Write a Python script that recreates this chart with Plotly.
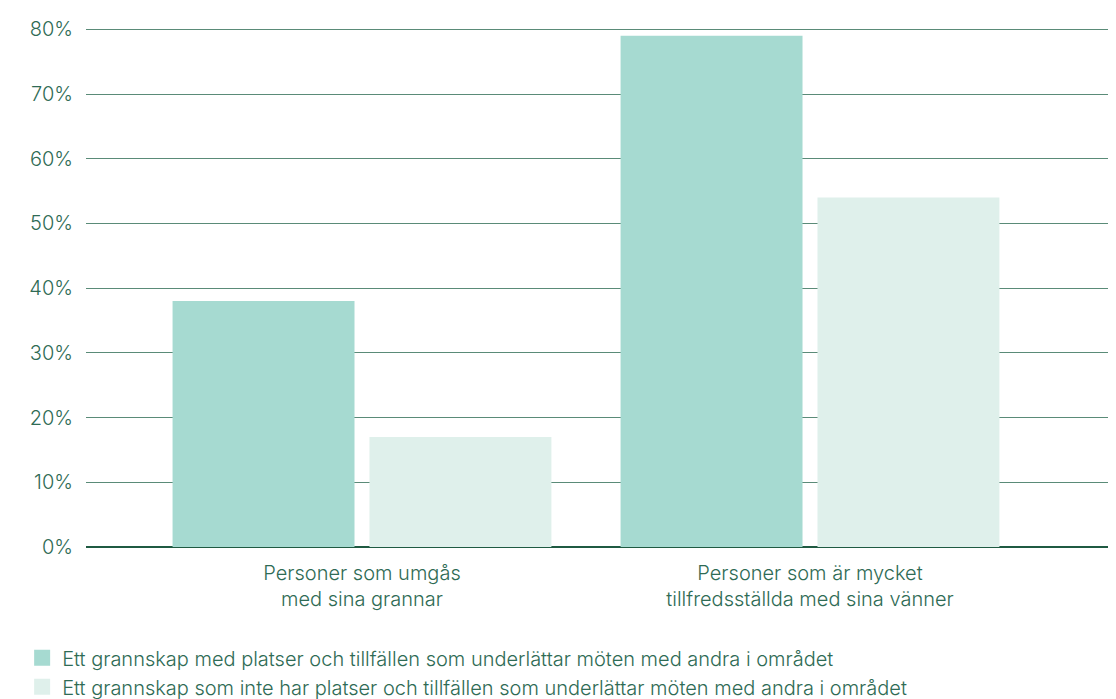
import plotly.graph_objects as go

categories = ["Personer som umgås<br>med sina grannar",
              "Personer som är mycket<br>tillfredsställda med sina vänner"]
series_names = ["Ett grannskap med platser och tillfällen som underlättar möten med andra i området",
                "Ett grannskap som inte har platser och tillfällen som underlättar möten med andra i området"]
values_with = [38, 79]
values_without = [17, 54]
tick_vals = [0, 10, 20, 30, 40, 50, 60, 70, 80]
tick_text = [f"{v}%" for v in tick_vals]
colors = ["#a6dad1", "#dff0eb"]
text_color = "#2f6b55"
font_family = "Inter, Roboto, sans-serif"

fig = go.Figure()
for vals, name, col in [(values_with, series_names[0], colors[0]),
                        (values_without, series_names[1], colors[1])]:
    fig.add_trace(go.Bar(x=[0, 1], y=vals, name=name, marker=dict(color=col, line=dict(width=0)),
                         showlegend=False, hoverinfo="skip"))
for name, col in zip(series_names, colors):
    fig.add_trace(go.Scatter(x=[None], y=[None], mode="markers", name=name,
                             marker=dict(symbol="square", size=19, color=col, line=dict(width=0)),
                             showlegend=True))

fig.update_layout(
    width=1108, height=691,
    margin=dict(l=78, r=0, t=20, b=152, autoexpand=False),
    paper_bgcolor="white", plot_bgcolor="white",
    barmode="group", bargap=0.121, bargroupgap=0.076,
    font=dict(family=font_family, color=text_color, size=20, weight=300),
    legend=dict(orientation="v", x=-0.062, xanchor="left", y=-0.176, yanchor="top",
                font=dict(size=20, color=text_color, weight=300), tracegroupgap=0,
                itemsizing="trace", bgcolor="rgba(0,0,0,0)"),
    xaxis=dict(range=[-0.616, 1.683], tickvals=[0, 1], ticktext=categories,
               showgrid=False, zeroline=False, showline=False, ticks="",
               automargin=False, ticklabelstandoff=12,
               tickfont=dict(size=20, color=text_color, weight=300)),
    yaxis=dict(range=[0, 80.2], tickvals=tick_vals, ticktext=tick_text,
               showgrid=True, gridcolor="#5a8b78", gridwidth=1.2,
               zeroline=True, zerolinecolor="#1f5a42", zerolinewidth=1.6,
               showline=False, ticks="", ticklabelstandoff=12, automargin=False,
               tickfont=dict(size=20, color=text_color, weight=300)),
)
fig.write_html("out.html")
